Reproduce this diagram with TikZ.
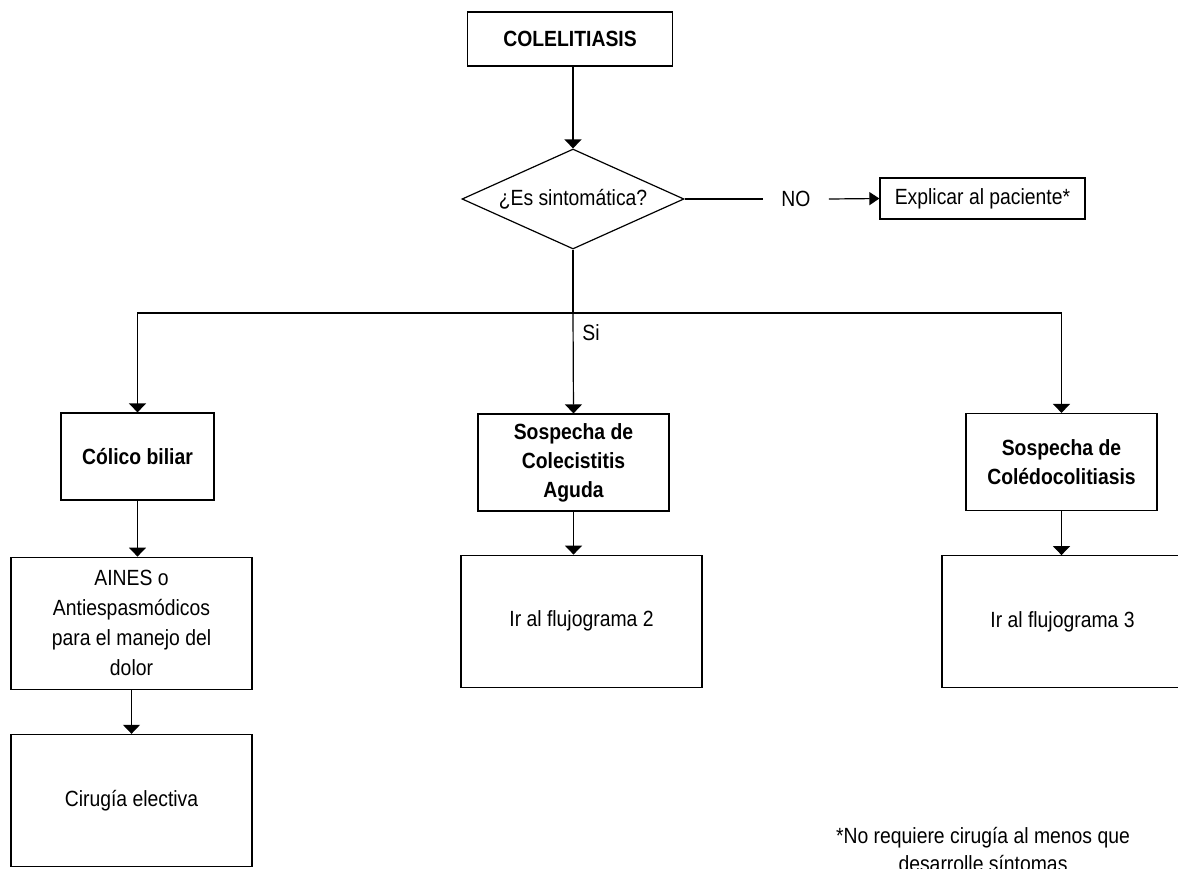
\documentclass[tikz,border=0pt]{standalone}
\usepackage{fontspec}
\setmainfont{Liberation Sans}[FakeStretch=0.88]
\usetikzlibrary{positioning,arrows.meta,shapes.geometric}

\begin{document}
\begin{tikzpicture}[x=0.5pt, y=-0.5pt,
    every node/.style={font=\fontsize{11}{15}\selectfont},
    block/.style={draw, line width=0.6pt, minimum width=120.5pt, minimum height=66pt, align=center, inner sep=2pt},
    head/.style={block, minimum width=95.5pt, minimum height=48.5pt, font=\bfseries\fontsize{11}{14.5}\selectfont},
    decision/.style={draw, line width=0.6pt, diamond, aspect=2.22, inner sep=0pt, minimum width=111pt, minimum height=50pt},
    arrow/.style={-{Triangle[length=4.5pt, width=8.5pt]}, line width=0.6pt},
    line/.style={line width=0.6pt},
]
\useasboundingbox (0,0) rectangle (1178,868);

\node[block, font=\bfseries\fontsize{11}{15}\selectfont, minimum width=102.5pt, minimum height=27pt] (colel) at (570,39) {COLELITIASIS};
\node[decision] (sint) at (573,199) {¿Es sintomática?};
\node[inner xsep=9pt] (no) at (796,199) {NO};
\node[block, minimum width=102.5pt, minimum height=20.5pt] (expl) at (982.5,198.5) {Explicar al paciente*};
\draw[arrow] (colel.south -| sint.north) -- (sint.north);
\draw[line] (sint.east) -- (no.west);
\draw[-{Triangle[length=5pt, width=6.5pt]}, line width=0.6pt] (no.east) -- (expl.west);

% ramas "Si"
\coordinate (split) at (573,313);
\node (si) at (591,333) {Si};
\node[head, minimum width=76.5pt, minimum height=43.5pt] (colico) at (137.5,456.5) {Cólico biliar};
\node[head] (colec) at (573.5,462.5) {Sospecha de\\Colecistitis\\Aguda};
\node[head] (coledo) at (1061.5,462) {Sospecha de\\Colédocolitiasis};
\draw[line] (sint.south) -- (split);
\draw[arrow] (split) -| (colico.north);
\draw[arrow] (split) -| (coledo.north);
\draw[arrow] (split) -- (colec.north);

\node[block, below=28pt of colico, xshift=-3pt] (aines) {AINES o\\Antiespasmódicos\\para el manejo del\\dolor};
\node[block, below=22pt of aines] (cirug) {Cirugía electiva};
\node[block, below=21.5pt of colec, xshift=4pt] (flujo2) {Ir al flujograma 2};
\node[block, below=22pt of coledo, xshift=0.5pt] (flujo3) {Ir al flujograma 3};
\draw[arrow] (colico.south) -- (colico.south |- aines.north);
\draw[arrow] (aines) -- (cirug);
\draw[arrow] (colec.south) -- (colec.south |- flujo2.north);
\draw[arrow] (coledo.south) -- (coledo.south |- flujo3.north);

\node[align=center, font=\fontsize{11}{14}\selectfont] (nota) at (983,849) {*No requiere cirugía al menos que\\desarrolle síntomas};
\end{tikzpicture}
\end{document}
